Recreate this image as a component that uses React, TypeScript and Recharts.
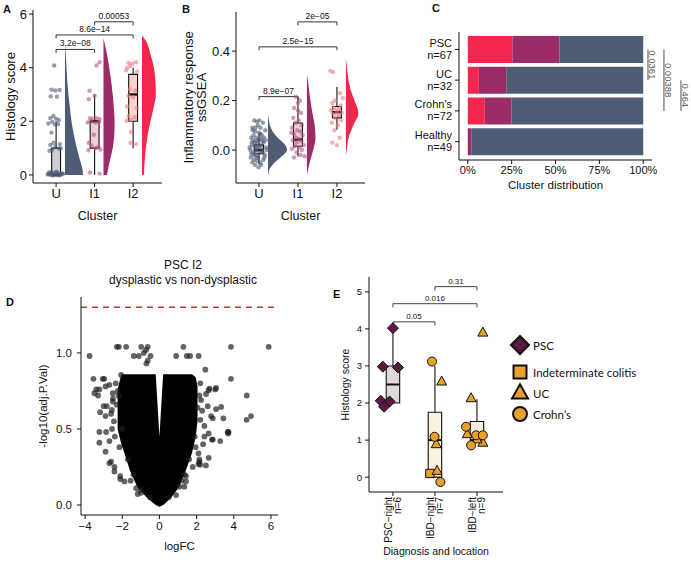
import React from 'react';
import {
  ComposedChart, BarChart, Bar, Area, Scatter, XAxis, YAxis,
  ReferenceLine, ReferenceArea, Legend,
} from 'recharts';

const FONT = '"Liberation Sans", Arial, Helvetica, sans-serif';
const INK = '#111111';
const SLATE = '#4f5c75';
const PLUM = '#9c2b67';
const RED = '#f5264d';

// shared cluster labels (A, B, C)
const clusterNames = ['U', 'I1', 'I2'];
const clusterColors = [SLATE, PLUM, RED];
const pointColors = ['#4f5c75', '#b5577f', '#ef7c86'];
const boxFills = ['#c8c6ce', '#ecc6d7', '#f9cbc7'];

// ---- A: histology score, [jittered cluster position, score]
const histU = [
  [0.95, 4.08], [0.88, 3.18], [0.98, 3.15], [1.09, 3.17], [0.86, 2.93], [1.02, 2.92],
  [0.93, 2.2], [0.85, 2.12], [1.0, 2.1], [1.07, 2.05], [0.9, 1.98], [0.8, 1.92],
  [0.97, 1.88], [1.05, 1.9], [0.88, 1.58], [0.93, 1.2], [1.1, 1.15], [0.85, 1.12],
  [0.98, 1.05], [1.08, 0.98], [0.9, 0.95], [1.12, 1.0], [0.83, 0.9], [1.02, 0.12],
  [0.88, 0.08], [0.8, 0.04], [0.85, 0.0], [0.9, 0.02], [0.95, 0.05], [1.0, 0.0],
  [1.05, 0.03], [1.1, 0.0], [1.15, 0.06], [0.82, 0.1], [0.92, -0.02], [0.97, 0.09],
  [1.07, -0.01], [1.13, 0.02], [0.87, 0.05], [1.03, 0.07], [0.78, 0.02], [1.18, 0.04],
];
const histI1 = [
  [2.13, 4.2], [2.05, 4.08], [1.87, 3.14], [2.0, 2.95], [1.85, 2.82], [1.88, 2.12],
  [1.95, 2.1], [2.05, 2.12], [2.13, 2.08], [1.9, 2.0], [2.02, 1.95], [2.12, 1.97],
  [1.82, 1.96], [1.98, 1.5], [1.85, 1.2], [1.92, 1.1], [2.1, 1.05], [2.03, 1.0],
  [1.84, 0.92], [2.15, 0.95], [1.88, 0.09], [2.13, 0.05],
];
const histI2 = [
  [2.88, 4.18], [2.98, 4.15], [3.08, 4.2], [2.93, 4.07], [2.85, 4.0], [2.82, 3.9],
  [3.1, 3.85], [2.92, 3.2], [3.05, 3.15], [2.88, 2.95], [3.0, 2.9], [2.84, 2.55],
  [3.1, 2.5], [2.88, 2.2], [3.05, 2.15], [2.95, 2.05], [2.83, 2.02], [2.94, 1.6],
  [2.93, 1.2], [3.08, 1.15],
];
// half violins, [score, density width]
const histViolinU = [[0, 0.47], [0.25, 0.45], [0.5, 0.4], [1, 0.31], [1.5, 0.23], [2, 0.17], [2.5, 0.13], [3, 0.09], [3.5, 0.06], [4, 0.04], [4.5, 0.02], [4.9, 0]];
const histViolinI1 = [[0, 0.09], [0.5, 0.16], [1, 0.24], [1.5, 0.28], [2, 0.29], [2.5, 0.27], [3, 0.24], [3.5, 0.2], [4, 0.15], [4.5, 0.09], [5.1, 0]];
const histViolinI2 = [[0, 0.05], [0.5, 0.07], [1, 0.1], [1.5, 0.15], [2, 0.22], [2.5, 0.3], [3, 0.36], [3.5, 0.35], [4, 0.31], [4.5, 0.22], [5, 0.1], [5.2, 0]];
// box stats [q1, median, q3, low whisker, high whisker]
const histStats = [[0, 0, 1, 0, 2], [1, 2, 2, 0, 3], [2, 3, 3.75, 1, 4]];
// tests [cluster a, cluster b, bracket level, p]
const histTests = [[1, 2, 4.68, '3.2e\u221208'], [1, 3, 5.22, '8.6e\u221214'], [2, 3, 5.71, '0.00053']];

// ---- B: inflammatory response ssGSEA
const infU = [
  [0.78, 0.0], [0.82, 0.02], [0.85, -0.01], [0.88, 0.03], [0.9, 0.0], [0.92, -0.02], [0.95, 0.01],
  [0.98, 0.04], [1.02, -0.01], [1.05, 0.02], [1.08, 0.0], [1.12, 0.03], [1.15, -0.02], [1.18, 0.01],
  [0.8, 0.05], [0.86, 0.06], [0.93, 0.05], [1.0, 0.07], [1.07, 0.06], [1.13, 0.05], [0.84, 0.08],
  [0.91, 0.09], [0.97, 0.1], [1.04, 0.09], [1.1, 0.11], [0.88, 0.12], [0.95, 0.115], [1.01, 0.12],
  [1.16, 0.08], [0.79, -0.03], [0.87, -0.04], [0.94, -0.03], [1.03, -0.05], [1.11, -0.04],
  [0.83, -0.05], [0.9, -0.06], [0.99, -0.07], [1.06, -0.06], [0.96, -0.045], [1.14, -0.03],
  [0.81, 0.03], [0.89, 0.015], [0.96, 0.025], [1.0, 0.045], [1.09, 0.035], [1.17, 0.04],
  [0.85, 0.04], [0.92, 0.035], [1.06, 0.045], [0.8, -0.015], [0.87, -0.02], [0.94, 0.0],
  [1.01, 0.015], [1.1, -0.01], [0.76, 0.01], [1.2, 0.0], [0.98, -0.03], [1.04, 0.065],
  [0.9, 0.075], [0.83, 0.09],
];
const infI1 = [
  [1.95, 0.215], [2.05, 0.2], [1.9, 0.17], [2.0, 0.16], [2.08, 0.15], [1.88, 0.13], [2.02, 0.12],
  [1.93, 0.11], [2.1, 0.1], [1.85, 0.09], [1.98, 0.08], [2.06, 0.075], [1.9, 0.065], [2.12, 0.06],
  [1.95, 0.05], [2.03, 0.045], [1.87, 0.04], [2.09, 0.035], [1.97, 0.03], [2.15, 0.02],
  [1.92, 0.015], [2.04, 0.01], [1.85, 0.005], [2.1, 0.0], [1.96, -0.01], [2.07, -0.02],
  [1.9, -0.03], [2.17, -0.025], [2.0, 0.19], [1.83, 0.07],
];
const infI2 = [
  [2.83, 0.32], [2.9, 0.315], [3.08, 0.23], [3.15, 0.21], [2.95, 0.2], [2.88, 0.19], [3.1, 0.18],
  [2.92, 0.17], [3.05, 0.165], [2.85, 0.16], [3.0, 0.155], [3.12, 0.15], [2.9, 0.145], [3.05, 0.14],
  [2.95, 0.13], [3.1, 0.12], [2.87, 0.11], [3.02, 0.1], [2.93, 0.08], [3.07, 0.05], [2.88, 0.03],
  [3.0, 0.02],
];
const infViolinU = [[-0.1, 0.01], [-0.075, 0.05], [-0.05, 0.17], [-0.025, 0.36], [0, 0.49], [0.025, 0.42], [0.05, 0.25], [0.075, 0.12], [0.1, 0.05], [0.125, 0.02], [0.145, 0]];
const infViolinI1 = [[-0.1, 0.0], [-0.05, 0.07], [0, 0.16], [0.05, 0.22], [0.1, 0.2], [0.15, 0.14], [0.2, 0.09], [0.25, 0.05], [0.305, 0]];
const infViolinI2 = [[-0.02, 0.0], [0, 0.02], [0.05, 0.07], [0.1, 0.19], [0.15, 0.32], [0.2, 0.22], [0.25, 0.11], [0.3, 0.05], [0.35, 0.015], [0.37, 0]];
const infStats = [[-0.015, 0.0, 0.021, -0.059, 0.068], [0.015, 0.042, 0.109, -0.026, 0.216], [0.13, 0.153, 0.176, 0.082, 0.255]];
const infTests = [[1, 2, 0.216, '8.9e\u221207'], [1, 3, 0.417, '2.5e\u221215'], [2, 3, 0.518, '2e\u221205']];

// ---- C: cluster share per diagnosis
const groups = ['PSC', 'UC', "Crohn's", 'Healthy'];
const groupN = [67, 32, 72, 49];
const shareI2 = [0.254, 0.063, 0.097, 0];
const shareI1 = [0.269, 0.156, 0.153, 0.02];
const shareU = [0.477, 0.781, 0.75, 0.98];
const groupTests = [['PSC', 'UC', '0.0361'], ['PSC', "Crohn's", '0.00388'], ['UC', "Crohn's", '0.464']];

// ---- D: volcano, dense core envelope [logFC, low, high] and spread genes [logFC, -log10 p]
const volcanoCore = [
  [-2.25, 0.5, 0.76], [-2.05, 0.4, 0.86], [-1.85, 0.33, 0.86], [-1.6, 0.23, 0.86], [-1.2, 0.12, 0.86],
  [-0.7, 0.05, 0.86], [-0.3, 0.01, 0.86], [-0.2, 0.0, 0.86], [0, -0.012, 0.45], [0.2, 0.0, 0.86],
  [0.3, 0.01, 0.86], [0.65, 0.05, 0.86], [1.07, 0.12, 0.86], [1.43, 0.23, 0.86], [1.75, 0.34, 0.86],
  [1.95, 0.45, 0.84], [2.05, 0.55, 0.78],
];
const volcanoSpread = [
  [-2.29, 1.04], [-2.18, 1.04], [-1.79, 1.04], [-0.98, 1.04], [-0.63, 1.04], [1.29, 1.04], [3.85, 1.04], [5.88, 1.04],
  [-3.76, 0.98], [-1.38, 0.98], [-1.11, 0.98], [-0.84, 1.0], [-0.48, 0.98], [-0.63, 0.95], [0.9, 0.98],
  [1.47, 0.98], [1.65, 0.98], [2.11, 0.98], [-0.72, 1.02], [-0.7, 0.93],
  [2.47, 0.89], [3.85, 0.83], [-3.55, 0.83], [-3.05, 0.83], [-2.97, 0.83], [-2.06, 0.855], [4.7, 0.72],
  [4.93, 0.585], [4.69, 0.56], [-3.5, 0.735], [-3.23, 0.76], [-2.9, 0.78], [-2.69, 0.79], [3.05, 0.77],
  [2.69, 0.765], [2.51, 0.73], [2.24, 0.69], [3.32, 0.645], [3.05, 0.63], [2.6, 0.65], [2.78, 0.585],
  [3.44, 0.57], [-2.83, 0.65], [-3.19, 0.61], [-2.9, 0.585], [2.2, 0.8], [2.65, 0.755], [3.0, 0.76],
  [2.2, 0.56], [2.42, 0.52], [2.87, 0.57], [2.65, 0.47], [2.87, 0.43], [3.27, 0.42], [3.7, 0.47],
  [3.72, 0.48], [2.1, 0.34], [2.15, 0.3], [2.1, 0.27], [2.5, 0.26], [-3.0, 0.65], [-3.23, 0.41],
  [-3.23, 0.48], [-2.9, 0.35], [-2.69, 0.42], [-2.87, 0.48], [-2.69, 0.275], [-2.42, 0.22],
  [-2.11, 0.19], [-1.88, 0.155], [-1.25, 0.11], [-0.98, 0.08], [-2.6, 0.285], [-2.42, 0.25],
  [-2.11, 0.17], [-1.17, 0.072], [2.42, 0.45], [2.83, 0.43], [3.67, 0.48], [2.65, 0.31], [2.15, 0.285],
  [2.19, 0.265], [1.43, 0.155], [1.07, 0.12], [1.43, 0.19], [1.79, 0.25], [1.34, 0.12], [0.9, 0.065],
  [-3.4, 0.76], [-3.3, 0.72], [-2.5, 0.7], [-2.6, 0.6], [-2.45, 0.55], [-2.55, 0.5], [-2.4, 0.45],
  [-2.3, 0.66], [-2.35, 0.8], [-2.2, 0.72], [2.3, 0.62], [2.35, 0.4], [2.05, 0.64], [2.15, 0.72],
  [-2.51, 0.735], [-2.24, 0.75], [-2.56, 0.625], [-2.51, 0.68],
  [-1.0, 0.1], [-1.4, 0.2], [1.2, 0.16], [1.6, 0.3], [-1.7, 0.3], [1.9, 0.45], [-2.0, 0.5],
  [-0.5, 0.05], [0.5, 0.05], [-2.15, 0.38], [1.95, 0.38], [-1.55, 0.16], [1.35, 0.2],
];

// ---- E: histology by diagnosis and location, [jittered position, score]
const siteNames = ['PSC\u2212right', 'IBD\u2212right', 'IBD\u2212left'];
const siteN = ['n=6', 'n=7', 'n=9'];
const ePsc = [[1.0, 4.02], [0.76, 2.98], [1.12, 2.96], [0.71, 2.06], [0.92, 2.04], [0.79, 1.9]];
const eIndet = [[1.88, 0.1]];
const eUc = [[2.16, 2.58], [2.03, 0.89], [2.05, 0.17], [3.14, 3.9], [2.86, 2.13], [2.77, 1.16], [3.14, 0.93], [3.0, 1.02]];
const eCd = [[1.93, 3.12], [1.99, 1.09], [2.13, -0.13], [2.74, 1.36], [2.98, 1.13], [3.14, 1.13], [2.86, 0.86]];
const eStats = [[2.0, 2.5, 3.0, 2.0, 4.02], [0.0, 1.0, 1.75, 0.0, 3.0], [1.0, 1.0, 1.5, 1.0, 2.1]];
const eTests = [[1, 2, 4.19, '0.05'], [1, 3, 4.68, '0.016'], [2, 3, 5.14, '0.31']];
const eLegend = ['PSC', 'Indeterminate colitis', 'UC', 'Crohn\u2019s'];

const PSC_FILL = '#5a1a42';
const IBD_FILL = '#e9a12b';

const toXY = (arr: number[][]) => arr.map(([x, y]) => ({ x, y }));

// bracket = horizontal bar with two short drop ticks
function bracketLines(tests: any[], drop: number, color: string, fontSize: number, prefix: string) {
  const out: any[] = [];
  tests.forEach(([a, b, lvl, p], i) => {
    out.push(
      <ReferenceLine key={`${prefix}h${i}`} segment={[{ x: a, y: lvl }, { x: b, y: lvl }]} stroke={color} strokeWidth={1}
        ifOverflow="visible" label={{ value: p, position: 'top', offset: 3, fontSize, fill: INK }} />,
      <ReferenceLine key={`${prefix}a${i}`} segment={[{ x: a, y: lvl }, { x: a, y: lvl - drop }]} stroke={color} strokeWidth={1} ifOverflow="visible" />,
      <ReferenceLine key={`${prefix}b${i}`} segment={[{ x: b, y: lvl }, { x: b, y: lvl - drop }]} stroke={color} strokeWidth={1} ifOverflow="visible" />,
    );
  });
  return out;
}

function boxMarks(stats: number[][], half: number, fills: string[], prefix: string, medW: number) {
  const out: any[] = [];
  stats.forEach(([q1, med, q3, lo, hi], i) => {
    const c = i + 1;
    out.push(
      <ReferenceArea key={`${prefix}box${i}`} x1={c - half} x2={c + half} y1={q1} y2={q3} fill={fills[i]} fillOpacity={0.85}
        stroke={INK} strokeWidth={1.1} ifOverflow="visible" />,
    );
    if (hi > q3) out.push(<ReferenceLine key={`${prefix}wh${i}`} segment={[{ x: c, y: q3 }, { x: c, y: hi }]} stroke={INK} strokeWidth={1.1} ifOverflow="visible" />);
    if (lo < q1) out.push(<ReferenceLine key={`${prefix}wl${i}`} segment={[{ x: c, y: lo }, { x: c, y: q1 }]} stroke={INK} strokeWidth={1.1} ifOverflow="visible" />);
    out.push(<ReferenceLine key={`${prefix}md${i}`} segment={[{ x: c - half, y: med }, { x: c + half, y: med }]} stroke={INK} strokeWidth={medW} ifOverflow="visible" />);
  });
  return out;
}

const VIOLIN_GAP = 0.23;

function RainPanel(p: any) {
  const g = p.geo;
  const margin = { top: g.pt - g.top, right: g.left + g.w - g.pr, bottom: g.top + g.h - g.pb - 40, left: 0 };
  return (
    <div style={{ position: 'absolute', left: g.left, top: g.top }}>
      <ComposedChart layout="vertical" width={g.w} height={g.h} margin={margin}>
        <XAxis type="number" dataKey="x" domain={p.xDomain} allowDataOverflow ticks={[1, 2, 3]} interval={0}
          tickFormatter={(v: number) => clusterNames[Math.round(v) - 1]} height={40} tickSize={4} tickMargin={2}
          stroke={INK} tick={{ fill: INK, fontSize: 13 }}
          label={{ value: 'Cluster', position: 'insideBottom', offset: 3, fill: INK, fontSize: 12.5 }} />
        <YAxis type="number" dataKey="y" reversed domain={p.yDomain} allowDataOverflow ticks={p.yTicks} interval={0}
          tickFormatter={p.yFmt} width={g.pl - g.left} tickSize={4} tickMargin={2} stroke={INK}
          tick={{ fill: INK, fontSize: 13 }} label={p.yLabel} />
        {p.violins.map((v: number[][], i: number) => (
          <Area key={`v${i}`} data={v.map(([val, w]) => ({ y: val, band: [i + 1 + VIOLIN_GAP, i + 1 + VIOLIN_GAP + w] }))}
            dataKey="band" type="monotone" stroke="none" fill={clusterColors[i]} fillOpacity={1}
            dot={false} activeDot={false} isAnimationActive={false} />
        ))}
        {p.points.map((pts: number[][], i: number) => (
          <Scatter key={`p${i}`} data={toXY(pts)} isAnimationActive={false}
            shape={(s: any) => <circle cx={s.cx} cy={s.cy} r={2.2} fill={pointColors[i]} fillOpacity={0.6} />} />
        ))}
        {boxMarks(p.stats, 0.115, boxFills, 'r', 2.4)}
        {bracketLines(p.tests, p.drop, '#333', 8.5, 't')}
      </ComposedChart>
    </div>
  );
}

const inflLabel = (props: any) => {
  const vb = props.viewBox;
  const cx = vb.x + 12.5;
  const cy = vb.y + vb.height / 2;
  return (
    <text x={cx} y={cy} transform={`rotate(-90 ${cx} ${cy})`} textAnchor="middle" fontSize={13} fill={INK}>
      <tspan x={cx} dy={0}>Inflammatory response</tspan>
      <tspan x={cx} dy={13.5}>ssGSEA</tspan>
    </text>
  );
};

function GroupTick(props: any) {
  const { x, y, payload } = props;
  const i = groups.indexOf(payload.value);
  return (
    <text x={x} y={y} textAnchor="end" fontSize={11} fill={INK}>
      <tspan x={x} dy={-2.5}>{payload.value}</tspan>
      <tspan x={x} dy={12}>{`n=${groupN[i]}`}</tspan>
    </text>
  );
}

const pValueLabel = (text: string) => (props: any) => {
  const vb = props.viewBox || {};
  const cx = vb.x + 5;
  const cy = vb.y + vb.height / 2;
  return (
    <text x={cx} y={cy} transform={`rotate(90 ${cx} ${cy})`} textAnchor="middle" dominantBaseline="central"
      fontSize={9.5} fill="#555">{text}</text>
  );
};

function DistributionPanel() {
  const data = groups.map((grp, i) => ({ group: grp, I2: shareI2[i], I1: shareI1[i], U: shareU[i] }));
  const bx = [1.027, 1.118, 1.215];
  return (
    <div style={{ position: 'absolute', left: 410, top: 0 }}>
      <BarChart layout="vertical" width={281} height={200} data={data} barSize={27}
        margin={{ top: 32, right: 39, bottom: 8, left: 0 }}>
        <XAxis type="number" domain={[-0.05, 1.05]} allowDataOverflow ticks={[0, 0.25, 0.5, 0.75, 1]} interval={0}
          tickFormatter={(v: number) => `${Math.round(v * 100)}%`} height={32} tickSize={4} tickMargin={2}
          stroke={INK} tick={{ fill: INK, fontSize: 11 }}
          label={{ value: 'Cluster distribution', position: 'insideBottom', offset: 3, fill: INK, fontSize: 11.5 }} />
        <YAxis type="category" dataKey="group" width={49} padding={{ top: 2, bottom: 3 }} tickSize={4} tickMargin={3}
          stroke={INK} interval={0} tick={(t: any) => <GroupTick {...t} />} />
        <Bar dataKey="I2" stackId="s" fill={RED} isAnimationActive={false} />
        <Bar dataKey="I1" stackId="s" fill={PLUM} isAnimationActive={false} />
        <Bar dataKey="U" stackId="s" fill={SLATE} isAnimationActive={false} />
        {groupTests.map(([a, b, p], i) => (
          <ReferenceLine key={`pc${i}`} segment={[{ x: bx[i], y: a }, { x: bx[i], y: b }]} stroke="#8a8a8a"
            strokeWidth={1.5} ifOverflow="visible" label={pValueLabel(p)} />
        ))}
      </BarChart>
    </div>
  );
}

const minusFmt = (v: number) => (v < 0 ? `\u2212${Math.abs(v)}` : `${v}`);

function VolcanoPanel() {
  const core = volcanoCore.map(([x, lo, hi]) => ({ x, range: [lo, hi] }));
  return (
    <div style={{ position: 'absolute', left: 0, top: 290 }}>
      <ComposedChart width={300} height={275} margin={{ top: 7, right: 22, bottom: 10, left: 0 }}>
        <XAxis type="number" dataKey="x" domain={[-4.22, 6.38]} allowDataOverflow ticks={[-4, -2, 0, 2, 4, 6]}
          interval={0} tickFormatter={minusFmt} height={40} tickSize={4} tickMargin={3} stroke={INK}
          tick={{ fill: INK, fontSize: 11.5 }}
          label={{ value: 'logFC', position: 'insideBottom', offset: 5, fill: INK, fontSize: 11.5 }} />
        <YAxis type="number" dataKey="y" domain={[-0.066, 1.368]} allowDataOverflow ticks={[0, 0.5, 1]} interval={0}
          tickFormatter={(v: number) => v.toFixed(1)} width={81} tickSize={4} tickMargin={5} stroke={INK}
          tick={{ fill: INK, fontSize: 11.5 }}
          label={{ value: '-log10(adj.P.Val)', angle: -90, position: 'insideLeft', offset: 43, fill: INK, fontSize: 11.5, style: { textAnchor: 'middle' } }} />
        <Area data={core} dataKey="range" type="linear" stroke="none" fill="#000" fillOpacity={1}
          dot={false} activeDot={false} isAnimationActive={false} />
        <Scatter data={toXY(volcanoSpread)} isAnimationActive={false}
          shape={(s: any) => <circle cx={s.cx} cy={s.cy} r={2.9} fill="#1a1a1a" fillOpacity={0.68} />} />
        <ReferenceLine y={1.301} stroke="#e5262b" strokeWidth={1.5} strokeDasharray="6 5" />
      </ComposedChart>
    </div>
  );
}

function SiteTick(props: any) {
  const { x, y, payload } = props;
  const i = Math.round(payload.value) - 1;
  return (
    <g transform={`translate(${x},${y})`}>
      <text transform="rotate(-90)" textAnchor="end" fontSize={10} fill={INK}>
        <tspan x={0} y={-0.5}>{siteNames[i]}</tspan>
        <tspan x={0} y={8.5}>{siteN[i]}</tspan>
      </text>
    </g>
  );
}

const shapes: any = {
  diamond: (cx: number, cy: number, r: number) => `M${cx},${cy - r}L${cx + r},${cy}L${cx},${cy + r}L${cx - r},${cy}Z`,
  square: (cx: number, cy: number, r: number) => `M${cx - r},${cy - r}H${cx + r}V${cy + r}H${cx - r}Z`,
  triangle: (cx: number, cy: number, r: number) => `M${cx},${cy - r * 1.1}L${cx + r},${cy + r * 0.7}L${cx - r},${cy + r * 0.7}Z`,
  circle: (cx: number, cy: number, r: number) => `M${cx - r},${cy}a${r},${r} 0 1,0 ${2 * r},0a${r},${r} 0 1,0 ${-2 * r},0Z`,
};
const legendShape = ['diamond', 'square', 'triangle', 'circle'];
const legendFill = [PSC_FILL, IBD_FILL, IBD_FILL, IBD_FILL];

const glyph = (kind: string, r: number, fill: string) => (s: any) => (
  <path d={shapes[kind](s.cx, s.cy, r)} fill={fill} stroke={INK} strokeWidth={1} />
);

function LegendBox() {
  const rowY = [15, 42, 63, 84];
  const rowR = [9, 6.5, 8, 7];
  return (
    <svg width={180} height={100} style={{ overflow: 'visible' }}>
      {eLegend.map((name, i) => (
        <g key={name}>
          <path d={shapes[legendShape[i]](12, rowY[i], rowR[i])} fill={legendFill[i]} stroke={INK} strokeWidth={2} />
          <text x={25} y={rowY[i]} dominantBaseline="central" fontSize={11.5} fill={INK}
            style={{ fontFamily: 'Lato, "Open Sans", sans-serif' }}>{name}</text>
        </g>
      ))}
    </svg>
  );
}

function LocationPanel() {
  return (
    <div style={{ position: 'absolute', left: 330, top: 270 }}>
      <ComposedChart width={361} height={295} margin={{ top: 7, right: 188, bottom: 7, left: 0 }}>
        <XAxis type="number" dataKey="x" domain={[0.43, 3.62]} allowDataOverflow ticks={[1, 2, 3]} interval={0}
          height={66} tickSize={4} tickMargin={1} stroke={INK} tick={(t: any) => <SiteTick {...t} />}
          label={{ value: 'Diagnosis and location', position: 'insideBottom', offset: 3, fill: INK, fontSize: 10.5 }} />
        <YAxis type="number" dataKey="y" domain={[-0.4, 5.4]} allowDataOverflow ticks={[0, 1, 2, 3, 4, 5]} interval={0}
          width={39} tickSize={4} tickMargin={3} stroke={INK} tick={{ fill: INK, fontSize: 9.5 }}
          label={{ value: 'Histology score', angle: -90, position: 'insideLeft', offset: 15, fill: INK, fontSize: 10.5, style: { textAnchor: 'middle' } }} />
        {boxMarks(eStats, 0.16, ['#d9d2d6', '#fcedda', '#fcedda'], 'e', 2)}
        {bracketLines(eTests, 0.1, '#444', 8, 'et')}
        <Scatter name="PSC" data={toXY(ePsc)} isAnimationActive={false} shape={glyph('diamond', 5.5, PSC_FILL)} />
        <Scatter name="Indeterminate colitis" data={toXY(eIndet)} isAnimationActive={false} shape={glyph('square', 4.2, IBD_FILL)} />
        <Scatter name="UC" data={toXY(eUc)} isAnimationActive={false} shape={glyph('triangle', 5, IBD_FILL)} />
        <Scatter name="Crohn's" data={toXY(eCd)} isAnimationActive={false} shape={glyph('circle', 4.5, IBD_FILL)} />
        <Legend layout="vertical" align="center" verticalAlign="middle" content={() => <LegendBox />}
          wrapperStyle={{ left: 178, top: 60, width: 180, height: 100 }} />
      </ComposedChart>
    </div>
  );
}

const letter = (ch: string, left: number, top: number) => (
  <div key={ch} style={{ position: 'absolute', left, top, fontSize: 11, fontWeight: 700, lineHeight: '12px' }}>{ch}</div>
);

export default function App() {
  return (
    <div style={{ position: 'absolute', left: 0, top: 0, width: 691, height: 565, background: '#fff', fontFamily: FONT, color: INK, overflow: 'hidden' }}>
      <RainPanel
        geo={{ left: 0, top: 0, w: 180, h: 230, pl: 33, pr: 162, pt: 10, pb: 183 }}
        xDomain={[0.4, 3.75]} yDomain={[-0.3, 6.15]} yTicks={[0, 2, 4, 6]} yFmt={(v: number) => `${v}`}
        points={[histU, histI1, histI2]} violins={[histViolinU, histViolinI1, histViolinI2]}
        stats={histStats} tests={histTests} drop={0.13}
        yLabel={{ value: 'Histology score', angle: -90, position: 'insideLeft', offset: 10, fill: INK, fontSize: 13, style: { textAnchor: 'middle' } }}
      />
      <RainPanel
        geo={{ left: 180, top: 0, w: 200, h: 230, pl: 236, pr: 365, pt: 12, pb: 183 }}
        xDomain={[0.41, 3.72]} yDomain={[-0.1333, 0.558]} yTicks={[0, 0.2, 0.4]} yFmt={(v: number) => v.toFixed(1)}
        points={[infU, infI1, infI2]} violins={[infViolinU, infViolinI1, infViolinI2]}
        stats={infStats} tests={infTests} drop={0.014}
        yLabel={inflLabel}
      />
      <DistributionPanel />
      <VolcanoPanel />
      <LocationPanel />
      <div style={{ position: 'absolute', left: 83, top: 258, width: 200, textAlign: 'center', fontSize: 12, lineHeight: '15px' }}>
        PSC I2<br />dysplastic vs non-dysplastic
      </div>
      {letter('A', 3, 3)}
      {letter('B', 182, 3)}
      {letter('C', 432, 2)}
      {letter('D', 6, 296)}
      {letter('E', 333, 288)}
    </div>
  );
}
